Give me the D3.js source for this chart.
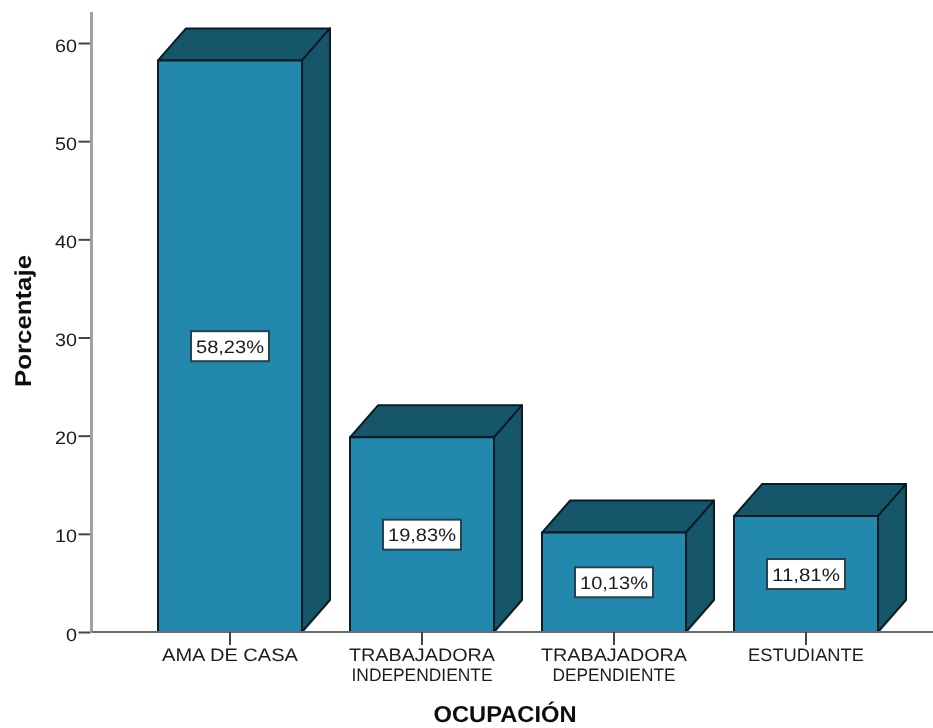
<!DOCTYPE html>
<html><head><meta charset="utf-8">
<script src="https://cdnjs.cloudflare.com/ajax/libs/d3/7.8.5/d3.min.js"></script>
<style>html,body{margin:0;padding:0;background:#fff}svg{display:block}text{font-family:"Liberation Sans",Arial,sans-serif;text-rendering:geometricPrecision}</style>
</head><body><svg id="c" width="933" height="728"></svg>
<script>
const categories=[["AMA DE CASA"],["TRABAJADORA","INDEPENDIENTE"],["TRABAJADORA","DEPENDIENTE"],["ESTUDIANTE"]];
const values=[58.23,19.83,10.13,11.81];
const valueLabels=["58,23%","19,83%","10,13%","11,81%"];
const yTicks=[0,10,20,30,40,50,60];
// rendered text widths (the reference type is stretched unevenly)
const textWidths={"AMA DE CASA":136,"TRABAJADORA":146,"INDEPENDIENTE":141,"DEPENDIENTE":123,"ESTUDIANTE":116};
const svg=d3.select("#c");
const defs=svg.append("defs");
defs.append("filter").attr("id","soft").attr("filterUnits","userSpaceOnUse").attr("x",0).attr("y",0).attr("width",933).attr("height",728)
  .append("feGaussianBlur").attr("stdDeviation",0.6);
const root=svg.append("g").attr("filter","url(#soft)");
const W=933,axisX=91.5,baseY=632,topY=12,dx=28,dy=32;
const x=d3.scaleBand().domain(d3.range(categories.length)).range([134,902]).paddingInner(.25).paddingOuter(.125);
const y=d3.scaleLinear().domain([0,60]).range([baseY,43]);
const front="#2488ad",side="#17566b",edge="#081a20",axisC="#a0a0a0",ink="#1c1c1c";
const fit=(s,w)=>s.attr("textLength",w).attr("lengthAdjust","spacingAndGlyphs");

const bars=root.selectAll("g.bar").data(values).join("g").attr("class","bar");
const st=s=>s.attr("stroke",edge).attr("stroke-width",2).attr("stroke-linejoin","round");
bars.each(function(v,i){
  const g=d3.select(this),x0=x(i),x1=x0+x.bandwidth(),t=y(v);
  st(g.append("path").attr("fill",side).attr("d",d3.line()([[x0,t],[x0+dx,t-dy],[x1+dx,t-dy],[x1,t]])+"Z"));
  st(g.append("path").attr("fill",side).attr("d",d3.line()([[x1,t],[x1+dx,t-dy],[x1+dx,baseY-dy],[x1,baseY]])+"Z"));
  st(g.append("rect").attr("fill",front).attr("x",x0).attr("y",t).attr("width",x.bandwidth()).attr("height",baseY-t));
  const cx=x0+x.bandwidth()/2,cy=(t+baseY)/2;
  g.append("rect").attr("x",cx-39).attr("y",cy-15).attr("width",78).attr("height",30).attr("fill","#fff").attr("stroke","#25424c").attr("stroke-width",2);
  fit(g.append("text").attr("x",cx).attr("y",cy+6.5).attr("text-anchor","middle").attr("font-size",18).attr("fill",ink).text(valueLabels[i]),68);
});

// axes
const ya=d3.axisLeft(y).tickValues(yTicks).tickSize(12).tickPadding(2).tickFormat(d3.format("d"));
const yg=root.append("g").attr("transform",`translate(${axisX},0)`).call(ya);
yg.select(".domain").remove();
yg.selectAll(".tick line").attr("stroke","#444").attr("stroke-width",2).attr("x2",-13).attr("x1",-1);
yg.selectAll(".tick text").attr("font-size",18).attr("fill",ink).attr("font-family","Liberation Sans")
  .attr("x",-14.5).attr("dy","0.45em").each(function(d){fit(d3.select(this),String(d).length*11);});
root.append("line").attr("x1",axisX).attr("x2",axisX).attr("y1",topY).attr("y2",baseY).attr("stroke",axisC).attr("stroke-width",3);
root.append("line").attr("x1",axisX).attr("x2",W).attr("y1",baseY).attr("y2",baseY).attr("stroke","#6a6a6a").attr("stroke-width",2);
const xg=root.append("g").selectAll("g").data(categories).join("g").attr("transform",(d,i)=>`translate(${x(i)+x.bandwidth()/2},${baseY})`);
xg.append("line").attr("y1",0).attr("y2",13).attr("stroke","#444").attr("stroke-width",2);
xg.each(function(d){
  d.forEach((l,j)=>fit(d3.select(this).append("text").attr("y",29+j*19.5).attr("text-anchor","middle").attr("font-size",18).attr("fill",ink).text(l),textWidths[l]));
});
fit(root.append("text").attr("transform","translate(31,321) rotate(-90)").attr("text-anchor","middle").attr("font-size",23).attr("font-weight","bold").attr("fill","#111").text("Porcentaje"),132);
fit(root.append("text").attr("x",505).attr("y",722).attr("text-anchor","middle").attr("font-size",23).attr("font-weight","bold").attr("fill","#111").text("OCUPACIÓN"),143);
</script></body></html>
